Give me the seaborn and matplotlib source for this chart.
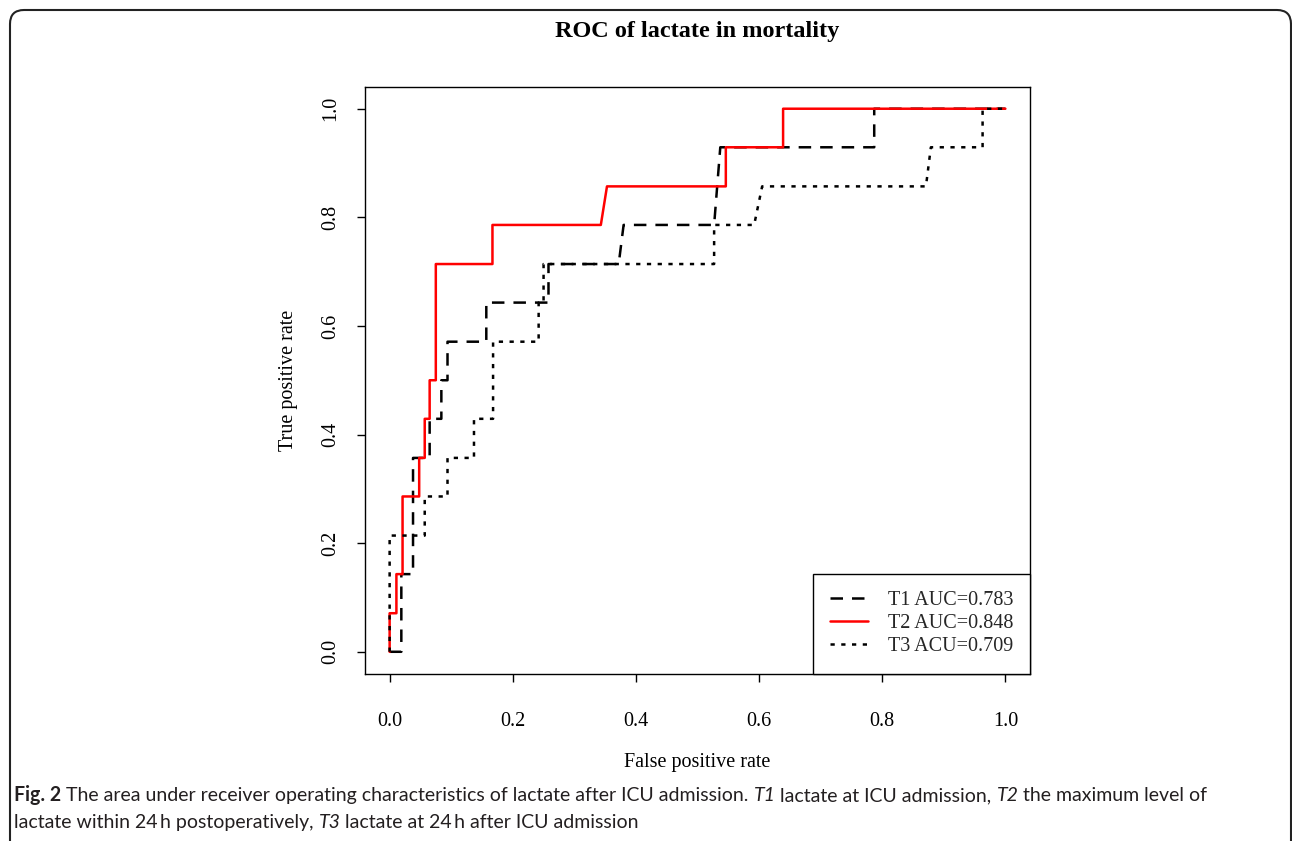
import matplotlib
matplotlib.use("Agg")
import matplotlib.pyplot as plt
import seaborn as sns
import pandas as pd
from matplotlib.lines import Line2D
from matplotlib.patches import FancyBboxPatch
from matplotlib.transforms import IdentityTransform

# ROC curves (false positive rate, true positive rate)
t1_fpr = [0, 0.019, 0.019, 0.038, 0.038, 0.065, 0.065, 0.084, 0.084, 0.094, 0.094,
          0.157, 0.157, 0.258, 0.258, 0.372, 0.380, 0.527, 0.537, 0.787, 0.787, 1.0]
t1_tpr = [0, 0, 0.143, 0.143, 0.357, 0.357, 0.429, 0.429, 0.5, 0.5, 0.571,
          0.571, 0.643, 0.643, 0.714, 0.714, 0.786, 0.786, 0.929, 0.929, 1.0, 1.0]

t2_fpr = [0, 0, 0.011, 0.011, 0.021, 0.021, 0.048, 0.048, 0.057, 0.057, 0.065, 0.065,
          0.075, 0.075, 0.167, 0.167, 0.343, 0.353, 0.546, 0.546, 0.639, 0.639, 1.0]
t2_tpr = [0, 0.071, 0.071, 0.143, 0.143, 0.286, 0.286, 0.357, 0.357, 0.429, 0.429, 0.5,
          0.5, 0.714, 0.714, 0.786, 0.786, 0.857, 0.857, 0.929, 0.929, 1.0, 1.0]

t3_fpr = [0, 0, 0.057, 0.057, 0.094, 0.094, 0.137, 0.137, 0.168, 0.168, 0.242, 0.242,
          0.250, 0.250, 0.527, 0.527, 0.592, 0.605, 0.871, 0.879, 0.963, 0.963, 1.0]
t3_tpr = [0, 0.214, 0.214, 0.286, 0.286, 0.357, 0.357, 0.429, 0.429, 0.571, 0.571, 0.643,
          0.643, 0.714, 0.714, 0.786, 0.786, 0.857, 0.857, 0.929, 0.929, 1.0, 1.0]

labels = ["T1 AUC=0.783", "T2 AUC=0.848", "T3 ACU=0.709"]
ticks = [0.0, 0.2, 0.4, 0.6, 0.8, 1.0]
tick_labels = ["0.0", "0.2", "0.4", "0.6", "0.8", "1.0"]

colors = {labels[0]: "black", labels[1]: "#ff0000", labels[2]: "black"}
dash_map = {labels[0]: (5.0, 3.6), labels[1]: "", labels[2]: (1.7, 2.6)}

frames = []
for lab, fx, fy in zip(labels, [t1_fpr, t2_fpr, t3_fpr], [t1_tpr, t2_tpr, t3_tpr]):
    frames.append(pd.DataFrame({"fpr": fx, "tpr": fy, "curve": lab}))
df = pd.concat(frames, ignore_index=True)

sns.set_theme(style="white")
plt.rcParams["font.family"] = ["Liberation Serif", "DejaVu Serif"]

W, H = 1292, 841
fig = plt.figure(figsize=(W / 100, H / 100), dpi=100)
ax = fig.add_axes([365 / W, (H - 673.5) / H, 665 / W, 586.5 / H])

lw = 1.8
sns.lineplot(data=df, x="fpr", y="tpr", hue="curve", style="curve",
             palette=colors, dashes=dash_map, sort=False, estimator=None,
             units="curve", linewidth=lw, legend=False, ax=ax)

ax.set_xlim(-0.04, 1.04)
ax.set_ylim(-0.04, 1.04)
ax.set_xticks(ticks)
ax.set_xticklabels(tick_labels)
ax.set_yticks(ticks)
ax.set_yticklabels(tick_labels, rotation=90, va="center")
ax.tick_params(axis="both", direction="out", length=6, width=1.0, color="black",
               labelsize=14.5, labelcolor="black", bottom=True, left=True)
ax.tick_params(axis="x", pad=22)
ax.tick_params(axis="y", pad=12)
for s in ax.spines.values():
    s.set_color("black")
    s.set_linewidth(1.0)

ax.set_xlabel("False positive rate", fontsize=14.5, color="black", va="center")
ax.set_ylabel("True positive rate", fontsize=14.5, color="black", va="center")
ax.xaxis.set_label_coords(0.5, (673.5 - 762) / 586.5)
ax.yaxis.set_label_coords((288 - 365) / 665, 0.5)
ax.set_title("ROC of lactate in mortality", fontsize=17.5, fontweight="bold",
             color="black", y=(673.5 - 45) / 586.5, va="baseline")

handles = []
for l in labels:
    h = Line2D([], [], color=colors[l], lw=lw)
    if dash_map[l]:
        h.set_dashes(dash_map[l])
    handles.append(h)
leg = ax.legend(handles, labels, loc="lower right", bbox_to_anchor=(1, 0),
                borderaxespad=0, fancybox=False, framealpha=1, edgecolor="black",
                fontsize=14.5, handlelength=1.9, handletextpad=0.95,
                labelspacing=0.2, borderpad=0.85)
leg.get_frame().set_linewidth(1.0)

# panel border of the journal figure
fig.add_artist(FancyBboxPatch((10, -30), W - 11, H - 10 + 30,
                              boxstyle="round,pad=0,rounding_size=14",
                              transform=IdentityTransform(), fill=False,
                              edgecolor="#222222", linewidth=1.5))

# caption with mixed bold / italic runs
cap_font = ["Lato", "DejaVu Sans"]
renderer = fig.canvas.get_renderer()

line1 = [("Fig. 2", "bold", "normal"),
         (" The area under receiver operating characteristics of lactate after ICU admission. ", "normal", "normal"),
         ("T1", "normal", "italic"),
         (" lactate at ICU admission, ", "normal", "normal"),
         ("T2", "normal", "italic"),
         (" the maximum level of", "normal", "normal")]
line2 = [("lactate within 24\u2009h postoperatively, ", "normal", "normal"),
         ("T3", "normal", "italic"),
         (" lactate at 24\u2009h after ICU admission", "normal", "normal")]


def draw_runs(x, y, runs, size):
    x0 = x
    made = []
    for txt, weight, style in runs:
        t = fig.text(x / W, 1 - y / H, txt, fontsize=size, family=cap_font,
                     fontweight=weight, fontstyle=style, color="#231f20", va="baseline")
        made.append(t)
        x += t.get_window_extent(renderer).width
    return made, x - x0


# size the caption so the first line spans the panel width like the original
trial, width = draw_runs(14, 801, line1, 12)
for t in trial:
    t.remove()
cap_size = 12 * 1191 / width
draw_runs(14, 801, line1, cap_size)
draw_runs(14, 828, line2, cap_size)

fig.savefig("out.png", dpi=100)
